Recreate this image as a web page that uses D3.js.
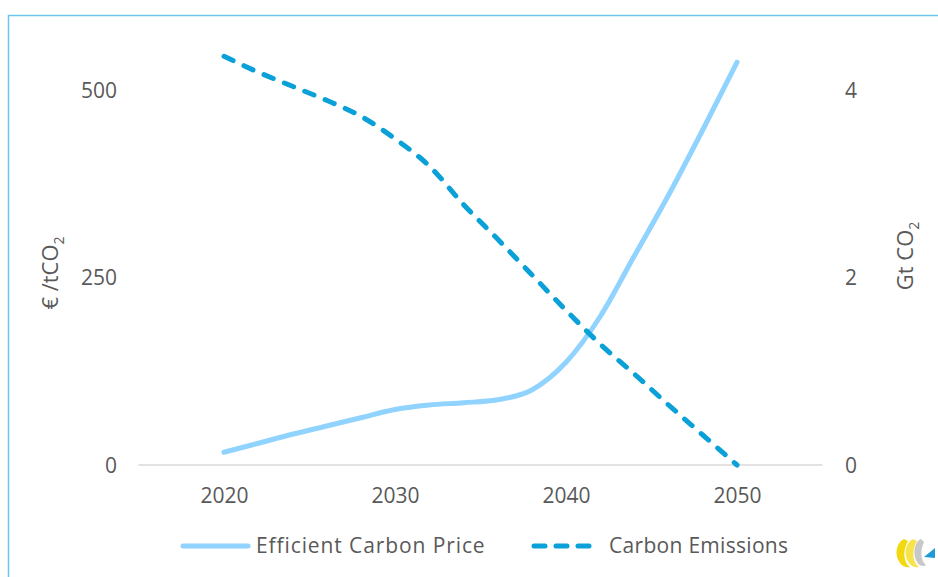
<!DOCTYPE html>
<html>
<head>
<meta charset="utf-8">
<script src="https://cdn.jsdelivr.net/npm/d3@7"></script>
<style>
  html, body { margin: 0; padding: 0; background: #fff; }
  svg { display: block; font-family: "Open Sans", sans-serif; }
</style>
</head>
<body>
<svg id="chart" width="938" height="577"></svg>
<script>
// Years on the horizontal axis
const years = [2020, 2022, 2024, 2026, 2028, 2030, 2032, 2034, 2036, 2038, 2040, 2042, 2044, 2046, 2048, 2050];
// Efficient carbon price, €/tCO2 (left axis)
const carbonPrice = [17, 29, 41, 52, 63, 74, 80, 83, 87, 100, 137, 198, 279, 360, 447, 537];
// Carbon emissions, Gt CO2 (right axis)
const carbonEmissions = [4.36, 4.19, 4.04, 3.89, 3.72, 3.48, 3.19, 2.78, 2.41, 2.03, 1.65, 1.29, 0.97, 0.64, 0.32, 0];

const xTicks = [2020, 2030, 2040, 2050];
const leftTicks = [0, 250, 500];
const rightTicks = [0, 2, 4];
const seriesNames = ["Efficient Carbon Price", "Carbon Emissions"];

const priceColor = "#8fd3fe";
const emissionColor = "#0aa0d8";
const textColor = "#595959";

const svg = d3.select("#chart");

// Frame around the figure
svg.append("path")
  .attr("d", "M938,15.5 H8.5 V577")
  .attr("fill", "none")
  .attr("stroke", "#6cc5ea")
  .attr("stroke-width", 1.5);

const x = d3.scaleLinear().domain([2015, 2055]).range([138.5, 822.5]);
const yLeft = d3.scaleLinear().domain([0, 500]).range([465, 90]);
const yRight = d3.scaleLinear().domain([0, 4]).range([465, 90]);

// Baseline
svg.append("line")
  .attr("x1", x(2015)).attr("x2", x(2055))
  .attr("y1", yLeft(0)).attr("y2", yLeft(0))
  .attr("stroke", "#d9d9d9").attr("stroke-width", 1.5);

// Axes (labels only, no domain or tick marks)
const xAxis = svg.append("g")
  .attr("transform", `translate(0,${yLeft(0)})`)
  .call(d3.axisBottom(x).tickValues(xTicks).tickFormat(d3.format("d")).tickSize(0).tickPadding(0));
const leftAxis = svg.append("g")
  .attr("transform", "translate(117,0)")
  .call(d3.axisLeft(yLeft).tickValues(leftTicks).tickFormat(d3.format("d")).tickSize(0).tickPadding(0));
const rightAxis = svg.append("g")
  .attr("transform", "translate(845,0)")
  .call(d3.axisRight(yRight).tickValues(rightTicks).tickFormat(d3.format("d")).tickSize(0).tickPadding(0));

[xAxis, leftAxis, rightAxis].forEach(g => {
  g.select(".domain").remove();
  g.selectAll("text")
    .attr("fill", textColor)
    .style("font-size", "21px")
    .style("font-family", "'Open Sans', sans-serif");
});
xAxis.selectAll("text").attr("dy", null).attr("y", 38);
leftAxis.selectAll("text").attr("dy", "0.35em");
rightAxis.selectAll("text").attr("dy", "0.35em");

// Axis titles
function axisTitle(cx, cy, main) {
  const t = svg.append("text")
    .attr("transform", `translate(${cx},${cy}) rotate(-90)`)
    .attr("text-anchor", "middle")
    .attr("fill", textColor)
    .style("font-size", "22px");
  t.append("tspan").text(main);
  t.append("tspan").attr("dy", 6).style("font-size", "14px").text("2");
}
axisTitle(58, 273, "€ /tCO");
axisTitle(913, 256, "Gt CO");

// Series
const pricePts = years.map((yr, i) => [x(yr), yLeft(carbonPrice[i])]);
const emisPts = years.map((yr, i) => [x(yr), yRight(carbonEmissions[i])]);
const line = d3.line().curve(d3.curveMonotoneX);

svg.append("path")
  .attr("d", line(pricePts))
  .attr("fill", "none")
  .attr("stroke", priceColor)
  .attr("stroke-width", 5)
  .attr("stroke-linecap", "round");

svg.append("path")
  .attr("d", line(emisPts))
  .attr("fill", "none")
  .attr("stroke", emissionColor)
  .attr("stroke-width", 5)
  .attr("stroke-dasharray", "10,12")
  .attr("stroke-linecap", "round");

// Legend
const legend = svg.append("g");
legend.append("line")
  .attr("x1", 183).attr("x2", 248).attr("y1", 546).attr("y2", 546)
  .attr("stroke", priceColor).attr("stroke-width", 5).attr("stroke-linecap", "round");
legend.append("text")
  .attr("x", 256).attr("y", 553)
  .attr("fill", textColor).style("font-size", "21px").style("letter-spacing", "0.9px")
  .text(seriesNames[0]);
legend.append("line")
  .attr("x1", 534).attr("x2", 594).attr("y1", 546).attr("y2", 546)
  .attr("stroke", emissionColor).attr("stroke-width", 5)
  .attr("stroke-dasharray", "11,11").attr("stroke-linecap", "round");
legend.append("text")
  .attr("x", 609).attr("y", 553)
  .attr("fill", textColor).style("font-size", "21px").style("letter-spacing", "0.3px")
  .text(seriesNames[1]);

// Small emblem in the lower right corner
const logo = svg.append("g").attr("transform", "translate(895,537)");
logo.append("path")
  .attr("d", "M9,2 C1,6 -1,18 5,26 C8,30 12,31 15,30 C9,26 7,14 13,4 Z")
  .attr("fill", "#f2d80f");
logo.append("path")
  .attr("d", "M18,2 C10,6 8,18 14,26 C17,30 21,31 24,30 C18,26 16,14 22,4 Z")
  .attr("fill", "#f7e34a");
logo.append("path")
  .attr("d", "M26,2 C20,4 17,16 22,25 C24,29 29,30 31,28 C27,25 24,16 29,5 Z")
  .attr("fill", "#c8c8c8");
logo.append("path")
  .attr("d", "M29,20 L40,11 L40,21 Z")
  .attr("fill", "#1e9ad6");
</script>
</body>
</html>
